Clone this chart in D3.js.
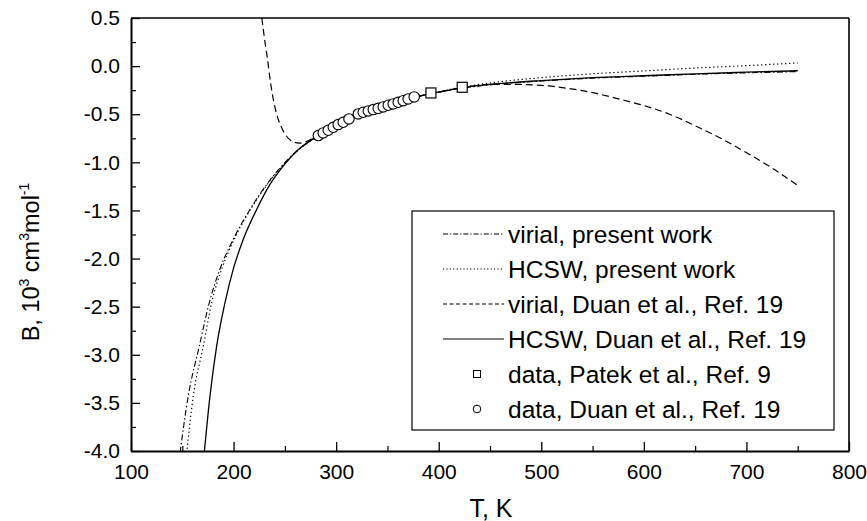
<!DOCTYPE html>
<html>
<head>
<meta charset="utf-8">
<script src="https://cdn.jsdelivr.net/npm/d3@7"></script>
<style>
  html, body { margin: 0; padding: 0; background: #fff; }
  svg { display: block; font-family: "Liberation Sans", Arial, sans-serif; }
</style>
</head>
<body>
<svg id="chart" width="867" height="521"></svg>
<script>
// Second virial coefficient B (10^3 cm^3/mol) versus temperature T (K)

// virial, present work (dash-dot)
const virialPresentT = [147.8, 155.8, 166.6, 176.3, 186.7, 199.7, 216, 232.3, 246.9, 262, 280, 300, 320, 340, 360, 380, 400, 425, 450, 500, 550, 600, 650, 700, 750];
const virialPresentB = [-4.02, -3.43, -2.91, -2.46, -2.11, -1.80, -1.49, -1.23, -1.04, -0.88, -0.74, -0.61, -0.50, -0.44, -0.375, -0.315, -0.27, -0.225, -0.195, -0.155, -0.125, -0.105, -0.085, -0.07, -0.057];

// HCSW, present work (dotted)
const hcswPresentT = [154.3, 160.7, 170.5, 178.6, 188.4, 200.5, 216.5, 232.8, 247.3, 262, 280, 300, 320, 340, 360, 380, 400, 425, 450, 500, 550, 600, 650, 700, 750];
const hcswPresentB = [-4.02, -3.43, -2.91, -2.46, -2.11, -1.80, -1.49, -1.23, -1.04, -0.88, -0.74, -0.61, -0.50, -0.44, -0.375, -0.315, -0.265, -0.215, -0.175, -0.12, -0.08, -0.05, -0.02, 0.005, 0.033];

// virial, Duan et al. (dashed)
const virialDuanT = [227.5, 229, 231, 233, 236, 239, 242, 246, 251, 257, 264, 272, 280, 300, 320, 340, 360, 380, 400, 425, 450, 475, 500, 525, 550, 575, 600, 625, 650, 675, 700, 725, 750];
const virialDuanB = [0.5, 0.38, 0.22, 0.08, -0.17, -0.36, -0.5, -0.62, -0.72, -0.78, -0.80, -0.78, -0.73, -0.61, -0.50, -0.44, -0.375, -0.315, -0.27, -0.22, -0.19, -0.19, -0.20, -0.23, -0.275, -0.34, -0.41, -0.50, -0.62, -0.75, -0.90, -1.06, -1.24];

// HCSW, Duan et al. (solid)
const hcswDuanT = [171.4, 177, 183.5, 191.6, 199.7, 209.5, 222.5, 235.5, 248.4, 263, 280, 300, 320, 340, 360, 380, 400, 425, 450, 500, 550, 600, 650, 700, 750];
const hcswDuanB = [-4.02, -3.43, -2.91, -2.46, -2.11, -1.80, -1.49, -1.23, -1.04, -0.87, -0.74, -0.61, -0.50, -0.44, -0.375, -0.315, -0.27, -0.22, -0.19, -0.15, -0.12, -0.10, -0.08, -0.063, -0.048];

// data, Patek et al. (squares)
const patekT = [392.4, 422.9];
const patekB = [-0.279, -0.22];

// data, Duan et al. (circles)
const duanT = [282.6, 287.4, 292.3, 297.2, 302.0, 306.9, 312.5, 321.6, 326.4, 331.3, 336.2, 341.0, 345.9, 350.8, 355.6, 360.5, 365.4, 370.2, 376.1];
const duanB = [-0.722, -0.694, -0.667, -0.636, -0.608, -0.584, -0.549, -0.497, -0.480, -0.466, -0.452, -0.439, -0.424, -0.407, -0.393, -0.376, -0.359, -0.341, -0.320];

// axis ticks
const xTicks = [100, 200, 300, 400, 500, 600, 700, 800];
const xMinorTicks = [150, 250, 350, 450, 550, 650, 750];
const yTicks = [0.5, 0.0, -0.5, -1.0, -1.5, -2.0, -2.5, -3.0, -3.5, -4.0];
const yMinorTicks = [0.25, -0.25, -0.75, -1.25, -1.75, -2.25, -2.75, -3.25, -3.75];

const legendLabels = [
  "virial, present work",
  "HCSW, present work",
  "virial, Duan et al., Ref. 19",
  "HCSW, Duan et al., Ref. 19",
  "data, Patek et al., Ref. 9",
  "data, Duan et al., Ref. 19"
];

const svg = d3.select("#chart");
const plot = { left: 131, right: 849, top: 18, bottom: 451 };
const FONT = "Liberation Sans, Arial, sans-serif";

const x = d3.scaleLinear().domain([100, 800]).range([plot.left, plot.right]);
const y = d3.scaleLinear().domain([-4.0, 0.5]).range([plot.bottom, plot.top]);

svg.append("defs").append("clipPath").attr("id", "plotClip")
  .append("rect")
  .attr("x", plot.left).attr("y", plot.top)
  .attr("width", plot.right - plot.left).attr("height", plot.bottom - plot.top);

const curves = [
  { T: virialPresentT, B: virialPresentB, dash: "6,2.5,1.5,2.5", w: 1.1 },
  { T: hcswPresentT, B: hcswPresentB, dash: "1.3,2.7", w: 1.2 },
  { T: virialDuanT, B: virialDuanB, dash: "7,4", w: 1.2 },
  { T: hcswDuanT, B: hcswDuanB, dash: null, w: 1.3 }
];

const line = d3.line()
  .x(d => x(d[0]))
  .y(d => y(d[1]))
  .curve(d3.curveMonotoneX);

const curveG = svg.append("g").attr("clip-path", "url(#plotClip)");
curves.forEach(c => {
  curveG.append("path")
    .datum(d3.zip(c.T, c.B))
    .attr("d", line)
    .attr("fill", "none")
    .attr("stroke", "#000")
    .attr("stroke-width", c.w)
    .attr("stroke-dasharray", c.dash);
});

// data markers
const markG = svg.append("g");
markG.selectAll("circle.duan")
  .data(d3.zip(duanT, duanB))
  .join("circle")
  .attr("class", "duan")
  .attr("cx", d => x(d[0]))
  .attr("cy", d => y(d[1]))
  .attr("r", 5.2)
  .attr("fill", "#fff")
  .attr("stroke", "#000")
  .attr("stroke-width", 1.1);

const sq = 10;
markG.selectAll("rect.patek")
  .data(d3.zip(patekT, patekB))
  .join("rect")
  .attr("class", "patek")
  .attr("x", d => x(d[0]) - sq / 2)
  .attr("y", d => y(d[1]) - sq / 2)
  .attr("width", sq).attr("height", sq)
  .attr("fill", "#fff")
  .attr("stroke", "#000")
  .attr("stroke-width", 1.2);

// frame: top and right edges
svg.append("line")
  .attr("x1", plot.left).attr("x2", plot.right)
  .attr("y1", plot.top).attr("y2", plot.top)
  .attr("stroke", "#000").attr("stroke-width", 1.6);
svg.append("line")
  .attr("x1", plot.right).attr("x2", plot.right)
  .attr("y1", plot.top).attr("y2", plot.bottom)
  .attr("stroke", "#000").attr("stroke-width", 1.6);

// bottom axis, ticks pointing inward
const xAxis = d3.axisBottom(x).tickValues(xTicks).tickFormat(d3.format("d"))
  .tickSizeInner(-9).tickSizeOuter(0).tickPadding(13);
const gx = svg.append("g").attr("transform", `translate(0,${plot.bottom})`).call(xAxis);
gx.select(".domain").attr("stroke-width", 2);
gx.selectAll(".tick line").attr("stroke-width", 1.3);
gx.selectAll(".tick text").attr("font-size", 21).attr("font-family", FONT).attr("fill", "#000");
const xMinor = d3.axisBottom(x).tickValues(xMinorTicks).tickFormat("").tickSizeInner(-5).tickSizeOuter(0);
const gxm = svg.append("g").attr("transform", `translate(0,${plot.bottom})`).call(xMinor);
gxm.select(".domain").remove();
gxm.selectAll(".tick line").attr("stroke-width", 1.2);

// left axis, ticks pointing inward
const yAxis = d3.axisLeft(y).tickValues(yTicks).tickFormat(d => d3.format(".1f")(d).replace("\u2212", "-"))
  .tickSizeInner(-9).tickSizeOuter(0).tickPadding(11);
const gy = svg.append("g").attr("transform", `translate(${plot.left},0)`).call(yAxis);
gy.select(".domain").attr("stroke-width", 2);
gy.selectAll(".tick line").attr("stroke-width", 1.3);
gy.selectAll(".tick text").attr("font-size", 21).attr("font-family", FONT).attr("fill", "#000");
const yMinor = d3.axisLeft(y).tickValues(yMinorTicks).tickFormat("").tickSizeInner(-5).tickSizeOuter(0);
const gym = svg.append("g").attr("transform", `translate(${plot.left},0)`).call(yMinor);
gym.select(".domain").remove();
gym.selectAll(".tick line").attr("stroke-width", 1.2);

// axis titles
svg.append("text")
  .attr("x", 491)
  .attr("y", 517)
  .attr("text-anchor", "middle")
  .attr("font-size", 25)
  .text("T, K");

const yt = svg.append("text")
  .attr("transform", "translate(39,262) rotate(-90)")
  .attr("text-anchor", "middle")
  .attr("font-size", 23.5);
yt.append("tspan").text("B, 10");
yt.append("tspan").attr("font-size", 14).attr("dy", -10).text("3");
yt.append("tspan").attr("dy", 10).text(" cm");
yt.append("tspan").attr("font-size", 14).attr("dy", -10).text("3");
yt.append("tspan").attr("dy", 10).text("mol");
yt.append("tspan").attr("font-size", 14).attr("dy", -10).text("-1");

// legend
const lg = { left: 412, top: 211, right: 834, bottom: 430 };
svg.append("rect")
  .attr("x", lg.left).attr("y", lg.top)
  .attr("width", lg.right - lg.left).attr("height", lg.bottom - lg.top)
  .attr("fill", "#fff").attr("stroke", "#000").attr("stroke-width", 1.2);

const rowY = i => 234 + i * 35;
const legendDash = ["5,2,1.2,2", "1.2,2.2", "4,2.5", null];
legendLabels.forEach((lab, i) => {
  const yy = rowY(i);
  if (i < 4) {
    svg.append("line")
      .attr("x1", 443).attr("x2", 504)
      .attr("y1", yy).attr("y2", yy)
      .attr("stroke", "#000").attr("stroke-width", 1.1)
      .attr("stroke-dasharray", legendDash[i]);
  } else if (i === 4) {
    svg.append("rect")
      .attr("x", 477 - 3.5).attr("y", yy - 3.5)
      .attr("width", 7).attr("height", 7)
      .attr("fill", "#fff").attr("stroke", "#000").attr("stroke-width", 1);
  } else {
    svg.append("circle")
      .attr("cx", 477).attr("cy", yy).attr("r", 3.8)
      .attr("fill", "#fff").attr("stroke", "#000").attr("stroke-width", 1);
  }
  svg.append("text")
    .attr("x", 508).attr("y", yy)
    .attr("dy", "0.36em")
    .attr("font-size", 24.5)
    .text(lab);
});
</script>
</body>
</html>
